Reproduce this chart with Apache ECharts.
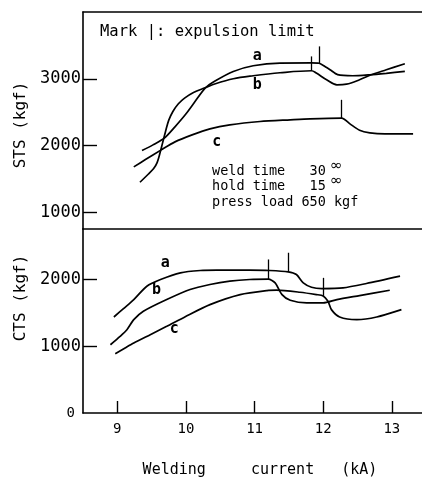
<!DOCTYPE html>
<html><head><meta charset="utf-8">
<script src="https://cdn.jsdelivr.net/npm/echarts@6/dist/echarts.min.js"></script>
<style>html,body{margin:0;padding:0;background:#fff}#c{width:422px;height:481px}</style>
</head><body><div id="c"></div>
<script>
// ---- data (welding current kA, strength kgf) ----
const currentTicks = [9, 10, 11, 12, 13];
const stsTicks = [1000, 2000, 3000];
const ctsTicks = [0, 1000, 2000];

const stsA = [[9.36,1925],[9.52,2010],[9.69,2115],[9.84,2280],[9.99,2460],[10.13,2655],[10.28,2860],[10.43,2970],[10.69,3110],[10.98,3195],[11.37,3235],[11.83,3237],[11.94,3232],[12.03,3180],[12.10,3135],[12.21,3062],[12.43,3045],[12.68,3060],[12.92,3082],[13.19,3110]];
const stsB = [[9.33,1450],[9.45,1570],[9.53,1655],[9.58,1745],[9.62,1880],[9.66,2040],[9.70,2200],[9.75,2380],[9.81,2510],[9.89,2625],[9.98,2710],[10.11,2795],[10.28,2865],[10.43,2925],[10.69,3000],[10.98,3045],[11.37,3090],[11.83,3120],[11.90,3085],[12.05,2985],[12.20,2910],[12.34,2920],[12.53,2985],[12.68,3052],[12.92,3135],[13.19,3225]];
const stsC = [[9.24,1680],[9.41,1790],[9.64,1935],[9.84,2055],[10.09,2160],[10.35,2250],[10.64,2310],[11.08,2360],[11.52,2385],[11.81,2400],[12.27,2410],[12.39,2325],[12.53,2228],[12.68,2190],[12.90,2175],[13.31,2175]];

const ctsA = [[8.95,1435],[9.09,1560],[9.24,1695],[9.43,1895],[9.63,1995],[9.92,2095],[10.21,2130],[10.45,2135],[10.93,2135],[11.22,2130],[11.49,2110],[11.61,2070],[11.71,1945],[11.83,1880],[11.98,1860],[12.29,1870],[12.63,1935],[13.12,2045]];
const ctsB = [[8.90,1020],[9.04,1145],[9.14,1245],[9.24,1395],[9.38,1520],[9.72,1695],[10.06,1845],[10.35,1920],[10.64,1970],[10.93,1995],[11.20,2000],[11.30,1945],[11.40,1770],[11.52,1685],[11.76,1645],[12.00,1645],[12.20,1695],[12.53,1755],[12.97,1835]];
const ctsC = [[8.97,885],[9.12,975],[9.24,1045],[9.48,1170],[9.72,1295],[9.99,1440],[10.35,1620],[10.79,1770],[11.18,1830],[11.32,1835],[11.66,1805],[11.90,1770],[12.00,1750],[12.07,1670],[12.12,1545],[12.24,1435],[12.49,1395],[12.78,1435],[13.14,1545]];

// expulsion limit marks: [current, strength at curve, top of mark]
const stsExpA = [11.94, 3232, 3485];
const stsExpB = [11.83, 3120, 3335];
const stsExpC = [12.27, 2410, 2685];
const ctsExpA = [11.49, 2110, 2395];
const ctsExpB = [11.20, 2000, 2295];
const ctsExpC = [12.00, 1750, 2020];

// curve letter anchors (data units)
const stsLblA = [11.04, 3345], stsLblB = [11.04, 2910], stsLblC = [10.45, 2055];
const ctsLblA = [9.70, 2235], ctsLblB = [9.57, 1830], ctsLblC = [9.83, 1260];

const FONT = "'DejaVu Sans Mono', monospace";

function curve(letter, data, gi, exp, lbl, sm) {
  return {
    type: 'line', name: letter, data: data, xAxisIndex: gi, yAxisIndex: gi,
    symbol: 'none', smooth: sm, silent: true,
    lineStyle: {color: '#000', width: 1.7},
    markLine: {
      silent: true, symbol: ['none', 'none'], label: {show: false},
      lineStyle: {color: '#000', type: 'solid', width: 1.3},
      data: [[{coord: [exp[0], exp[1]]}, {coord: [exp[0], exp[2]]}]]
    },
    markPoint: {
      silent: true, symbol: 'circle', symbolSize: 1, itemStyle: {color: 'transparent'},
      label: {show: true, position: 'inside', formatter: letter, color: '#000', fontFamily: FONT, fontSize: 15, fontWeight: 'bold'},
      data: [{coord: lbl}]
    }
  };
}

const tickLine = {color: '#000', width: 1.4};
const frameLine = {color: '#000', width: 1.6};
const plain = function (v) { return String(v); };
const chart = echarts.init(document.getElementById('c'));
chart.setOption({
  animation: false,
  backgroundColor: '#fff',
  grid: [
    {left: 83, right: 0, top: 12, height: 217},
    {left: 83, right: 0, top: 229, bottom: 68}
  ],
  xAxis: [
    {gridIndex: 0, type: 'value', min: 8.5, max: 13.44, position: 'bottom',
     axisLine: {show: true, onZero: false, lineStyle: frameLine},
     axisTick: {show: false}, axisLabel: {show: false}, splitLine: {show: false}},
    {gridIndex: 1, type: 'value', min: 8.5, max: 13.44,
     axisLine: {show: true, onZero: false, lineStyle: frameLine},
     axisTick: {show: true, inside: true, length: 12, customValues: currentTicks, lineStyle: tickLine},
     axisLabel: {customValues: currentTicks, color: '#000', fontFamily: FONT, fontSize: 14, margin: 9, formatter: plain},
     splitLine: {show: false}},
    {gridIndex: 0, type: 'value', min: 8.5, max: 13.44, position: 'top',
     axisLine: {show: true, onZero: false, lineStyle: frameLine},
     axisTick: {show: false}, axisLabel: {show: false}, splitLine: {show: false}}
  ],
  yAxis: [
    {gridIndex: 0, type: 'value', min: 750, max: 4000,
     axisLine: {show: true, onZero: false, lineStyle: frameLine},
     axisTick: {show: true, inside: true, length: 14, customValues: stsTicks, lineStyle: tickLine},
     axisLabel: {customValues: stsTicks, color: '#000', fontFamily: FONT, fontSize: 17, margin: 2, formatter: plain},
     splitLine: {show: false}},
    {gridIndex: 1, type: 'value', min: 0, max: 2750,
     axisLine: {show: true, onZero: false, lineStyle: frameLine},
     axisTick: {show: true, inside: true, length: 14, customValues: [1000, 2000], lineStyle: tickLine},
     axisLabel: {customValues: ctsTicks, color: '#000', fontFamily: FONT, fontSize: 17, margin: 2,
       formatter: function (v) { return v === 0 ? '{z|0}' : String(v); },
       rich: {z: {fontSize: 14, fontFamily: FONT, color: '#000', padding: [0, 6, 0, 0]}}},
     splitLine: {show: false}}
  ],
  graphic: [
    {type: 'text', x: 100, y: 32, style: {text: 'Mark |: expulsion limit', font: '15.5px ' + FONT, fill: '#000', align: 'left', verticalAlign: 'middle'}},
    {type: 'text', x: 212, y: 171, style: {text: 'weld time   30', font: '13.5px ' + FONT, fill: '#000', align: 'left', verticalAlign: 'middle'}},
    {type: 'text', x: 330, y: 166, style: {text: '∞', font: '15px DejaVu Sans', fill: '#000', align: 'left', verticalAlign: 'middle'}},
    {type: 'text', x: 212, y: 186, style: {text: 'hold time   15', font: '13.5px ' + FONT, fill: '#000', align: 'left', verticalAlign: 'middle'}},
    {type: 'text', x: 330, y: 181, style: {text: '∞', font: '15px DejaVu Sans', fill: '#000', align: 'left', verticalAlign: 'middle'}},
    {type: 'text', x: 212, y: 202, style: {text: 'press load 650 kgf', font: '13.5px ' + FONT, fill: '#000', align: 'left', verticalAlign: 'middle'}},
    {type: 'text', x: 21, y: 125, rotation: Math.PI / 2, style: {text: 'STS (kgf)', font: '16px ' + FONT, fill: '#000', align: 'center', verticalAlign: 'middle'}},
    {type: 'text', x: 21, y: 298, rotation: Math.PI / 2, style: {text: 'CTS (kgf)', font: '16px ' + FONT, fill: '#000', align: 'center', verticalAlign: 'middle'}},
    {type: 'text', x: 260, y: 470, style: {text: 'Welding     current   (kA)', font: '15px ' + FONT, fill: '#000', align: 'center', verticalAlign: 'middle'}}
  ],
  series: [
    curve('a', stsA, 0, stsExpA, stsLblA, 0.25),
    curve('b', stsB, 0, stsExpB, stsLblB, 0.35),
    curve('c', stsC, 0, stsExpC, stsLblC, 0.25),
    curve('a', ctsA, 1, ctsExpA, ctsLblA, 0.25),
    curve('b', ctsB, 1, ctsExpB, ctsLblB, 0.25),
    curve('c', ctsC, 1, ctsExpC, ctsLblC, 0.25)
  ]
});
</script>
</body></html>
